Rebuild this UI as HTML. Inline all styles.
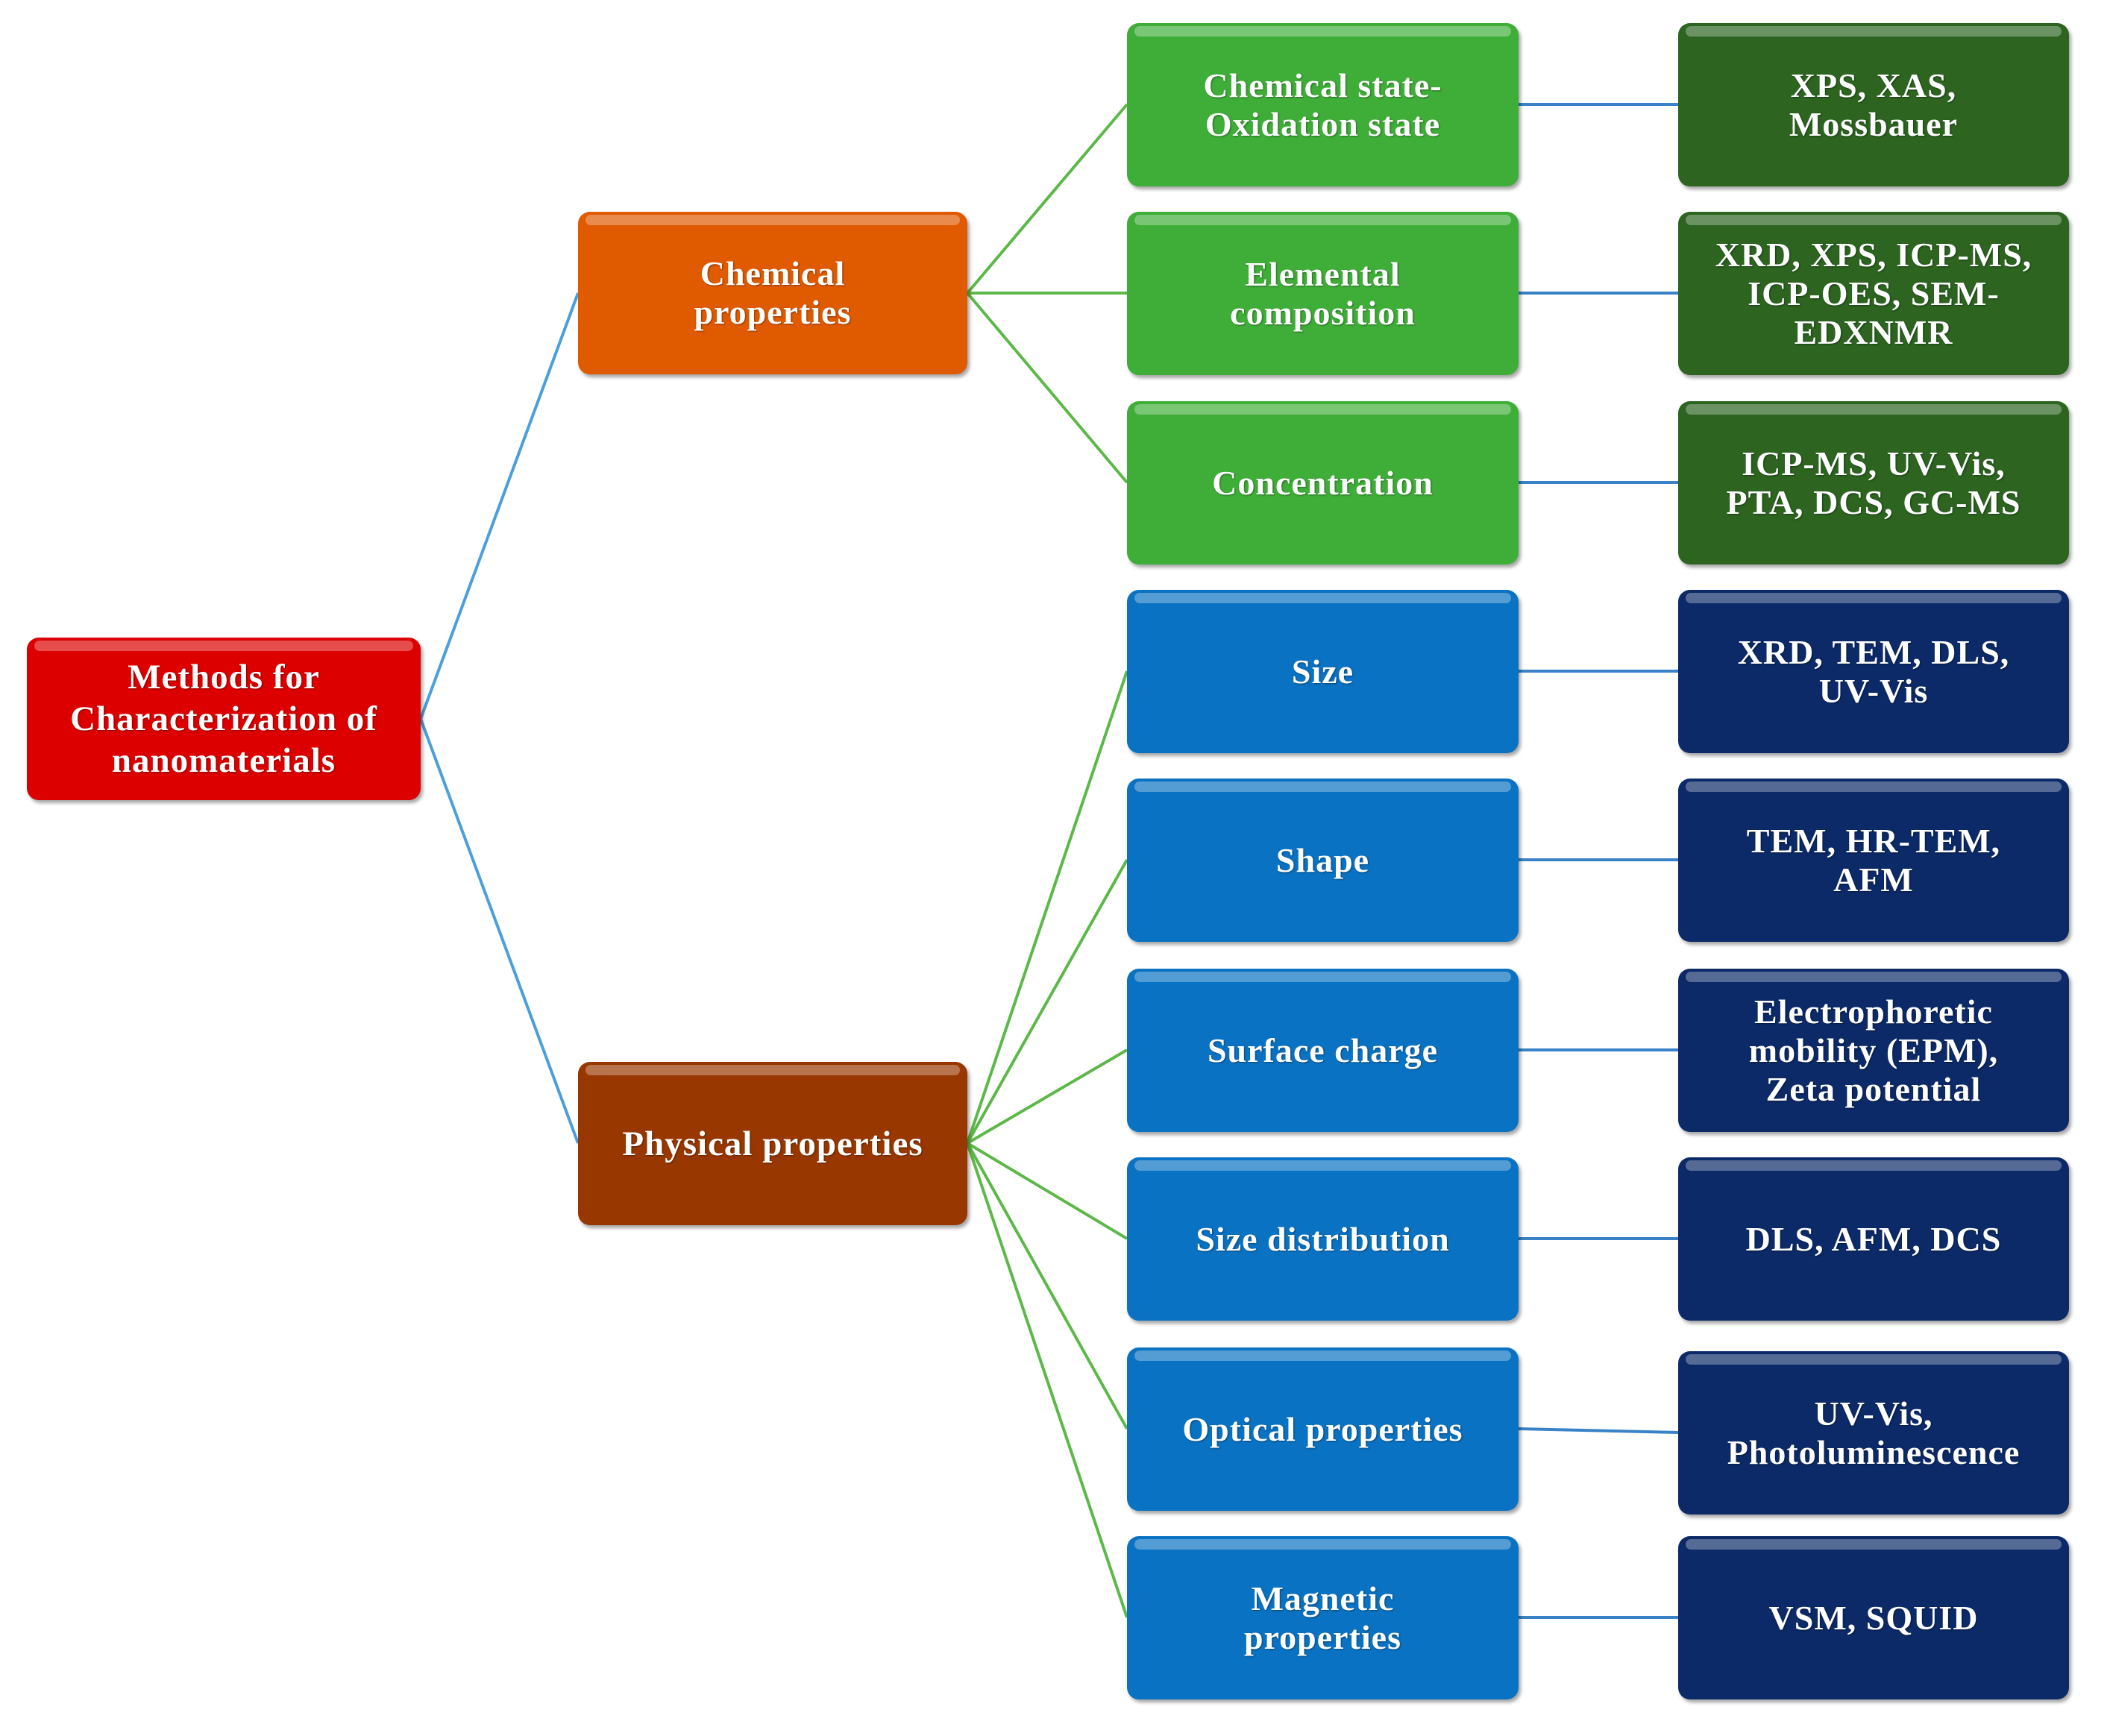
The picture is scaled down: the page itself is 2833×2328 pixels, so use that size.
<!DOCTYPE html>
<html><head><meta charset="utf-8"><style>
body{margin:0;width:2833px;height:2328px;background:#fff;position:relative;overflow:hidden;font-family:"Liberation Serif",serif;}
.b{position:absolute;border-radius:16px;color:#fff;font-weight:bold;font-size:46px;line-height:52px;display:flex;align-items:center;justify-content:center;text-align:center;box-shadow:3px 4px 5px rgba(0,0,0,0.35);letter-spacing:1px;text-shadow:1px 1px 2px rgba(0,0,0,0.4);}
.b::before{content:"";position:absolute;left:10px;right:10px;top:4px;height:14px;border-radius:8px;background:rgba(255,255,255,0.3);}
.r{background:#dc0000}.o{background:#e05a00}.p{background:#983800}.g{background:#3fae38}.dg{background:#2c6420}.bl{background:#0a72c2}.nv{background:#0c2a68}
svg{position:absolute;left:0;top:0}
</style></head><body>
<svg width="2833" height="2328">
<g stroke="#4a9fdc" stroke-width="4" fill="none">
<line x1="564" y1="964" x2="775" y2="393"/><line x1="564" y1="964" x2="775" y2="1533"/>
</g>
<g stroke="#5cb848" stroke-width="4">
<line x1="1297" y1="393" x2="1511" y2="140"/><line x1="1297" y1="393" x2="1511" y2="393"/><line x1="1297" y1="393" x2="1511" y2="647"/>
<line x1="1297" y1="1533" x2="1511" y2="900"/><line x1="1297" y1="1533" x2="1511" y2="1153"/><line x1="1297" y1="1533" x2="1511" y2="1408"/><line x1="1297" y1="1533" x2="1511" y2="1661"/><line x1="1297" y1="1533" x2="1511" y2="1916"/><line x1="1297" y1="1533" x2="1511" y2="2169"/>
</g>
<g stroke="#3a82c8" stroke-width="4">
<line x1="2036" y1="140" x2="2250" y2="140"/><line x1="2036" y1="393" x2="2250" y2="393"/><line x1="2036" y1="647" x2="2250" y2="647"/><line x1="2036" y1="900" x2="2250" y2="900"/><line x1="2036" y1="1153" x2="2250" y2="1153"/><line x1="2036" y1="1408" x2="2250" y2="1408"/><line x1="2036" y1="1661" x2="2250" y2="1661"/><line x1="2036" y1="1916" x2="2250" y2="1921"/><line x1="2036" y1="2169" x2="2250" y2="2169"/>
</g>
</svg>
<div class="b r" style="left:36px;top:855px;width:528px;height:218px;font-size:47px;line-height:56px">Methods for<br>Characterization of<br>nanomaterials</div>
<div class="b o" style="left:775px;top:284px;width:522px;height:218px">Chemical<br>properties</div>
<div class="b p" style="left:775px;top:1424px;width:522px;height:219px;font-size:47px">Physical properties</div>

<div class="b g" style="left:1511px;top:31px;width:525px;height:219px">Chemical state-<br>Oxidation state</div>
<div class="b g" style="left:1511px;top:284px;width:525px;height:219px">Elemental<br>composition</div>
<div class="b g" style="left:1511px;top:538px;width:525px;height:219px">Concentration</div>
<div class="b bl" style="left:1511px;top:791px;width:525px;height:219px">Size</div>
<div class="b bl" style="left:1511px;top:1044px;width:525px;height:219px">Shape</div>
<div class="b bl" style="left:1511px;top:1299px;width:525px;height:219px">Surface charge</div>
<div class="b bl" style="left:1511px;top:1552px;width:525px;height:219px">Size distribution</div>
<div class="b bl" style="left:1511px;top:1807px;width:525px;height:219px">Optical properties</div>
<div class="b bl" style="left:1511px;top:2060px;width:525px;height:219px">Magnetic<br>properties</div>

<div class="b dg" style="left:2250px;top:31px;width:524px;height:219px">XPS, XAS,<br>Mossbauer</div>
<div class="b dg" style="left:2250px;top:284px;width:524px;height:219px">XRD, XPS, ICP-MS,<br>ICP-OES, SEM-<br>EDXNMR</div>
<div class="b dg" style="left:2250px;top:538px;width:524px;height:219px">ICP-MS, UV-Vis,<br>PTA, DCS, GC-MS</div>
<div class="b nv" style="left:2250px;top:791px;width:524px;height:219px">XRD, TEM, DLS,<br>UV-Vis</div>
<div class="b nv" style="left:2250px;top:1044px;width:524px;height:219px">TEM, HR-TEM,<br>AFM</div>
<div class="b nv" style="left:2250px;top:1299px;width:524px;height:219px">Electrophoretic<br>mobility (EPM),<br>Zeta potential</div>
<div class="b nv" style="left:2250px;top:1552px;width:524px;height:219px">DLS, AFM, DCS</div>
<div class="b nv" style="left:2250px;top:1812px;width:524px;height:219px">UV-Vis,<br>Photoluminescence</div>
<div class="b nv" style="left:2250px;top:2060px;width:524px;height:219px">VSM, SQUID</div>
</body></html>
